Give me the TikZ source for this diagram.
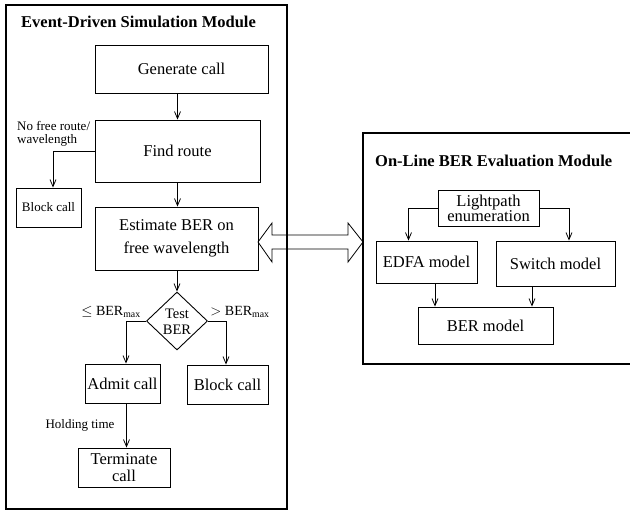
\documentclass[tikz,border=0pt]{standalone}
\usepackage{fontspec}
\setmainfont{Liberation Serif}
\usetikzlibrary{arrows.meta,shapes.geometric}
\begin{document}
\begin{tikzpicture}[x=1pt,y=-1pt,
  every node/.style={font=\fontsize{16.5}{18}\selectfont, inner sep=0pt},
  box/.style={draw, line width=0.9pt, rectangle, align=center},
  outer/.style={draw, line width=1.3pt},
  lbl/.style={font=\fontsize{13}{13.5}\selectfont},
  ttl/.style={font=\fontsize{16.5}{18}\selectfont\bfseries, anchor=west},
  arr/.style={draw, line width=0.8pt, -{Straight Barb[length=7pt,width=6pt]}},
  dia/.style={draw, line width=0.9pt, diamond, minimum width=61pt, minimum height=58pt}]
\useasboundingbox (0,0) rectangle (630,510);
\fill[white] (0,0) rectangle (630,510);
% outer frames
\draw[outer] (6,5) rectangle (287,509);
\draw[outer] (631,133) -- (363,133) -- (363,364) -- (631,364);
\node[ttl] (t1) at (21,22) {Event-Driven Simulation Module};
\node[ttl] (t2) at (375,161) {On-Line BER Evaluation Module};
% left flowchart
\node[box, minimum width=173pt, minimum height=48pt] (gen) at (181.5,69) {Generate call};
\node[box, minimum width=165pt, minimum height=62pt] (find) at (177.5,151) {Find route};
\node[box, minimum width=163pt, minimum height=63pt, font=\fontsize{16.5}{23}\selectfont] (est) at (176.5,238.5) {Estimate BER on\\free wavelength};
\node[box, minimum width=65pt, minimum height=39pt, font=\fontsize{13}{14}\selectfont] (blockL) at (48.5,207.5) {Block call};
\node[dia] (dia) at (177,321) {};
\node[align=center, font=\fontsize{14.5}{16}\selectfont] (dialbl) at (177,322) {Test\\BER};
\node[box, minimum width=75pt, minimum height=39pt] (admit) at (122.5,383.5) {Admit call};
\node[box, minimum width=81pt, minimum height=39pt] (blockR) at (227.5,384.5) {Block call};
\node[box, minimum width=92pt, minimum height=39pt, font=\fontsize{16.5}{16.5}\selectfont] (term) at (124,467.5) {Terminate\\call};
% labels
\node[lbl, anchor=west, align=left] (nofree) at (17,134) {No free route/\\wavelength};
\node[font=\fontsize{14}{15}\selectfont] (le) at (111,312) {$\leq$ BER$_{\mathrm{max}}$};
\node[font=\fontsize{14}{15}\selectfont] (gt) at (240,312) {$>$ BER$_{\mathrm{max}}$};
\node[lbl] (hold) at (80,425) {Holding time};
% right module
\node[box, minimum width=101pt, minimum height=36pt, font=\fontsize{16.5}{15}\selectfont] (light) at (488.5,208) {Lightpath\\enumeration};
\node[box, minimum width=101pt, minimum height=42pt] (edfa) at (426.5,262) {EDFA model};
\node[box, minimum width=119pt, minimum height=45pt] (switch) at (555.5,263.5) {Switch model};
\node[box, minimum width=135pt, minimum height=37pt] (ber) at (485.5,325.5) {BER model};
% connectors
\draw[arr] (gen.south -| find.north) -- (find.north);
\draw[arr] (find.south) -- (est.north -| find.south);
\draw[arr] (est.south -| dia.north) -- (dia.north);
\draw[arr] (find.west) -| ([xshift=4.5pt]blockL.north);
\draw[arr] (dia.west) -| ([xshift=3.5pt]admit.north);
\draw[arr] (dia.east) -| ([xshift=-1.5pt]blockR.north);
\draw[arr] ([xshift=4pt]admit.south) -- ([xshift=4pt]admit.south |- term.north);
\draw[arr] (light.west) -| ([xshift=-18pt]edfa.north);
\draw[arr] (light.east) -| ([xshift=13.5pt]switch.north);
\draw[arr] ([xshift=8.5pt]edfa.south) -- ([xshift=8.5pt]edfa.south |- ber.north);
\draw[arr] ([xshift=-23.5pt]switch.south) -- ([xshift=-23.5pt]switch.south |- ber.north);
% double arrow between modules
\coordinate (dl) at (est.east);
\coordinate (dr) at (363,242);
\draw[line width=0.8pt] (258,242) -- (272,223) -- (272,235) -- (348,235) -- (348,223) -- (dr)
  -- (348,262) -- (348,249) -- (272,249) -- (272,262) -- cycle;
\end{tikzpicture}
\end{document}
